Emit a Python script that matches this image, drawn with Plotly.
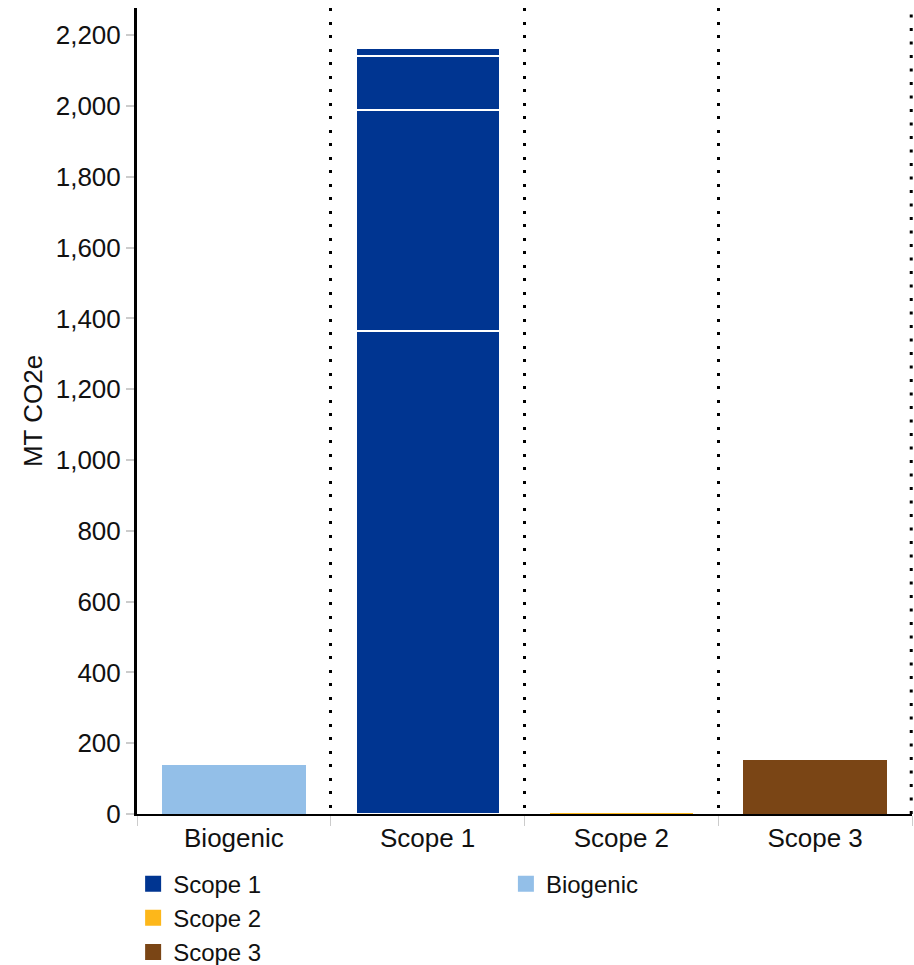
import plotly.graph_objects as go

categories = ["Biogenic", "Scope 1", "Scope 2", "Scope 3"]
scope1_segments = [1364, 625, 152, 23]
scope2_value = 2
scope3_value = 152
biogenic_value = 138
y_ticks = [0, 200, 400, 600, 800, 1000, 1200, 1400, 1600, 1800, 2000, 2200]
legend_names = ["Scope 1", "Scope 2", "Scope 3"]

C1, C2, C3, CB = "#003591", "#FDB71A", "#7A4515", "#93BFE8"
white_line = dict(color="white", width=1.5)

fig = go.Figure()
for v in scope1_segments:
    fig.add_trace(go.Bar(x=["Scope 1"], y=[v], name="Scope 1", marker=dict(color=C1, line=white_line),
                         showlegend=False))
fig.add_trace(go.Bar(x=["Scope 2"], y=[scope2_value], name="Scope 2",
                     marker=dict(color=C2, line=dict(width=0)), showlegend=False))
fig.add_trace(go.Bar(x=["Scope 3"], y=[scope3_value], name="Scope 3",
                     marker=dict(color=C3, line=dict(width=0)), showlegend=False))
fig.add_trace(go.Bar(x=["Biogenic"], y=[biogenic_value], name="Biogenic",
                     marker=dict(color=CB, line=dict(width=0)), showlegend=False))

# legend-only entries with larger square swatches
for name, col in zip(legend_names, [C1, C2, C3]):
    fig.add_trace(go.Scatter(x=[None], y=[None], mode="markers", name=name,
                             marker=dict(symbol="square", size=20, color=col), legend="legend"))
fig.add_trace(go.Scatter(x=[None], y=[None], mode="markers", name="Biogenic",
                         marker=dict(symbol="square", size=20, color=CB), legend="legend2"))

family = "Liberation Sans, Arial, sans-serif"
font = dict(family=family, size=26, color="#111")
lfont = dict(family=family, size=24, color="#111")
dots = "3px,10.5px"
fig.update_layout(
    width=914, height=965,
    barmode="stack", bargap=0.26,
    plot_bgcolor="white", paper_bgcolor="white",
    margin=dict(l=137, r=2, t=8, b=151, autoexpand=False),
    font=font,
    xaxis=dict(categoryorder="array", categoryarray=categories, tickson="boundaries",
               showgrid=True, gridcolor="black", gridwidth=3, griddash=dots,
               showline=True, linecolor="black", linewidth=2, automargin=False,
               ticks="outside", ticklen=10, tickcolor="#ccc", tickwidth=1),
    yaxis=dict(range=[0, 2277], tickvals=y_ticks, tickformat=",d", showgrid=False,
               showline=True, linecolor="black", linewidth=3, zeroline=False, automargin=False,
               ticks="outside", ticklen=8, tickcolor="#ccc", tickwidth=2,
               title=dict(text="MT CO2e", standoff=6, font=dict(family=family, size=26, color="#111"))),
    legend=dict(orientation="v", x=-0.005, xanchor="left", y=-0.059, yanchor="top",
                traceorder="normal", font=lfont, tracegroupgap=0, itemwidth=30),
    legend2=dict(orientation="v", x=0.476, xanchor="left", y=-0.059, yanchor="top",
                 font=lfont, itemwidth=30),
    showlegend=True,
    shapes=[
        dict(type="line", xref="paper", yref="paper", x0=0.999, x1=0.999, y0=0, y1=1,
             line=dict(color="black", width=3, dash=dots)),
    ],
)
fig.write_html("out.html", config={"displayModeBar": False},
               post_script="document.body.style.margin='0';document.body.style.overflow='hidden';")
